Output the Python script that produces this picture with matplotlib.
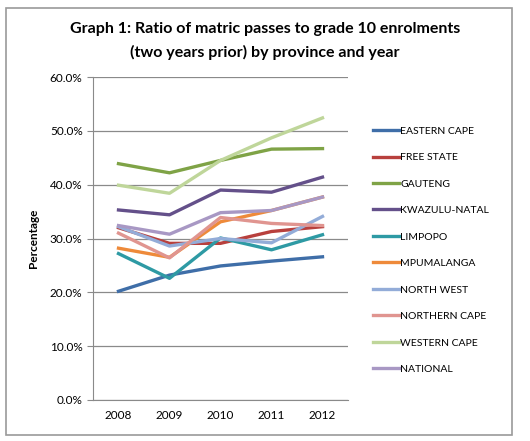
import matplotlib.pyplot as plt
import matplotlib.patches as patches
from matplotlib.ticker import FuncFormatter

plt.rcParams['font.family'] = ['Lato', 'DejaVu Sans']

years = ["2008", "2009", "2010", "2011", "2012"]
provinces = ["EASTERN CAPE", "FREE STATE", "GAUTENG", "KWAZULU-NATAL", "LIMPOPO",
             "MPUMALANGA", "NORTH WEST", "NORTHERN CAPE", "WESTERN CAPE", "NATIONAL"]

eastern_cape = [20.2, 23.2, 24.9, 25.8, 26.6]
free_state = [32.0, 29.1, 29.1, 31.3, 32.2]
gauteng = [43.9, 42.2, 44.5, 46.6, 46.7]
kwazulu_natal = [35.3, 34.4, 39.0, 38.6, 41.4]
limpopo = [27.2, 22.6, 30.1, 27.9, 30.7]
mpumalanga = [28.2, 26.5, 33.1, 35.2, 37.7]
north_west = [32.2, 28.6, 30.0, 29.2, 34.1]
northern_cape = [31.0, 26.4, 33.9, 32.8, 32.4]
western_cape = [39.9, 38.4, 44.5, 48.7, 52.4]
national = [32.4, 30.8, 34.8, 35.2, 37.7]

series = [eastern_cape, free_state, gauteng, kwazulu_natal, limpopo,
          mpumalanga, north_west, northern_cape, western_cape, national]
colors = ["#3F6EA8", "#B8403D", "#7FA346", "#64508A", "#2E9AA4",
          "#EE8A3A", "#93ACD8", "#E09590", "#BFD69A", "#A898C4"]

fig = plt.figure(figsize=(5.3, 4.41), dpi=100)
fig.patches.append(patches.Rectangle((6 / 530, 1 - 435 / 441), 506 / 530, 427 / 441,
                                     transform=fig.transFigure, fill=False,
                                     edgecolor="#9a9a9a", lw=1.2))

ax = fig.add_axes([93 / 530, 1 - 400 / 441, 255 / 530, 323 / 441])
x = range(len(years))
for vals, name, c in zip(series, provinces, colors):
    ax.plot(x, vals, color=c, lw=2.4, label=name)

ax.set_xlim(-0.5, 4.5)
ax.set_ylim(0, 60)
ax.set_yticks(range(0, 61, 10))
ax.yaxis.set_major_formatter(FuncFormatter(lambda v, p: f"{v:.1f}%"))
ax.set_xticks(list(x))
ax.set_xticklabels(years)
ax.grid(axis="y", color="#8a8a8a", lw=0.9)
ax.set_axisbelow(True)
for s in ["top", "right"]:
    ax.spines[s].set_visible(False)
for s in ["left", "bottom"]:
    ax.spines[s].set_color("#8a8a8a")
ax.tick_params(axis="y", length=4, color="#8a8a8a", labelsize=8.5)
ax.tick_params(axis="x", length=0, labelsize=8.5, pad=7)
ax.set_ylabel("Percentage", fontsize=8.5, fontweight="bold", labelpad=8)

fig.text(0.5, 1 - 29 / 441, "Graph 1: Ratio of matric passes to grade 10 enrolments",
         ha="center", va="center", fontsize=11.5, fontweight="bold")
fig.text(0.5, 1 - 52 / 441, "(two years prior) by province and year",
         ha="center", va="center", fontsize=11.5, fontweight="bold")

fig.legend(loc="upper left", bbox_to_anchor=(364 / 530, 1 - 117 / 441), frameon=False,
           fontsize=7.5, handlelength=2.5, handletextpad=0.1, labelspacing=1.65)

fig.savefig("out.png", dpi=100)
